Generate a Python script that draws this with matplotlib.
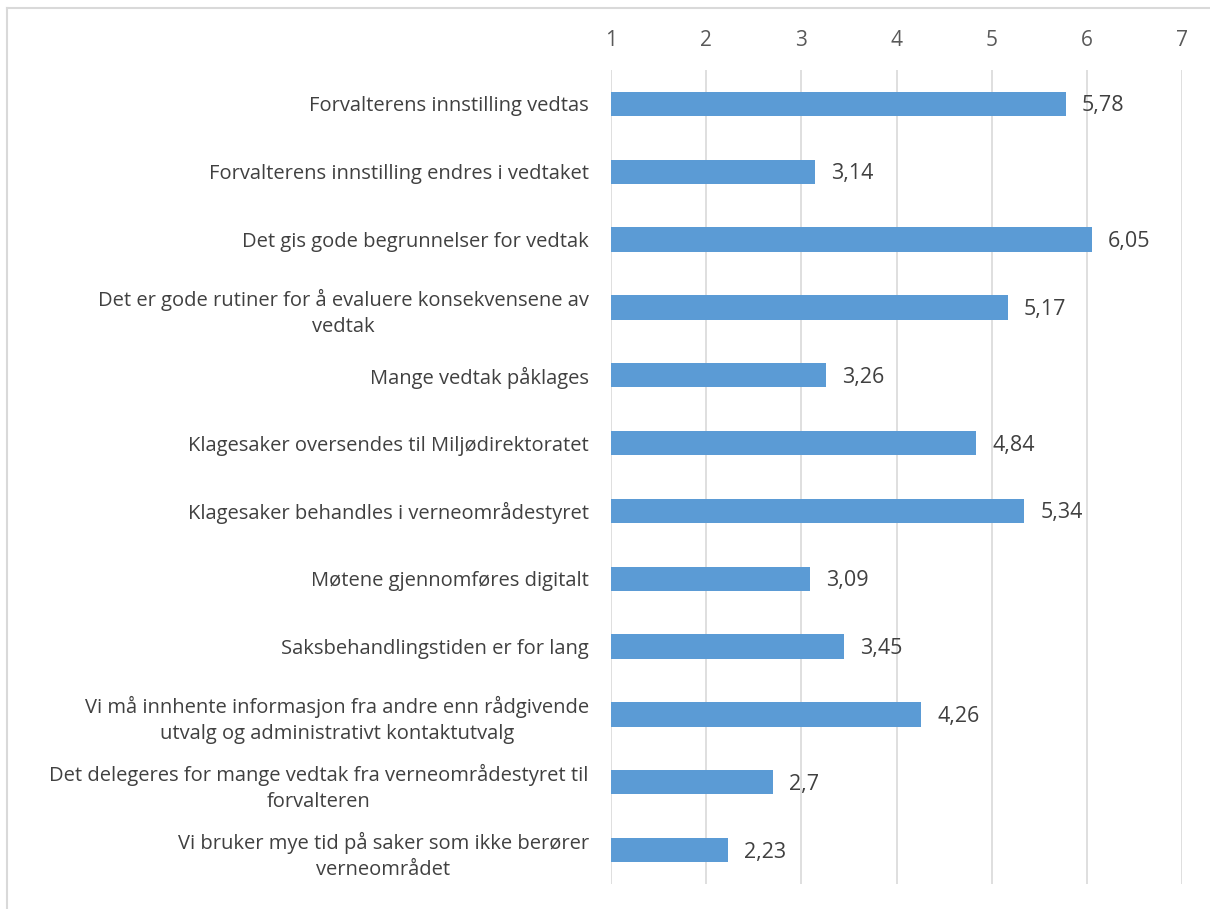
import matplotlib
matplotlib.use("Agg")
import matplotlib.pyplot as plt
from matplotlib.lines import Line2D

categories = [
    "Forvalterens innstilling vedtas",
    "Forvalterens innstilling endres i vedtaket",
    "Det gis gode begrunnelser for vedtak",
    "Det er gode rutiner for å evaluere konsekvensene av\nvedtak",
    "Mange vedtak påklages",
    "Klagesaker oversendes til Miljødirektoratet",
    "Klagesaker behandles i verneområdestyret",
    "Møtene gjennomføres digitalt",
    "Saksbehandlingstiden er for lang",
    "Vi må innhente informasjon fra andre enn rådgivende\nutvalg og administrativt kontaktutvalg",
    "Det delegeres for mange vedtak fra verneområdestyret til\nforvalteren",
    "Vi bruker mye tid på saker som ikke berører\nverneområdet",
]
values = [5.78, 3.14, 6.05, 5.17, 3.26, 4.84, 5.34, 3.09, 3.45, 4.26, 2.7, 2.23]
ticks = [1, 2, 3, 4, 5, 6, 7]

plt.rcParams['font.family'] = ['Open Sans', 'DejaVu Sans']
W, H = 1210, 909
fig = plt.figure(figsize=(W/100, H/100), dpi=100)
ax = fig.add_axes([611/W, 1-884/H, (1182-611)/W, (884-70)/H])

y = list(range(len(categories)))
ax.barh(y, [v - 1 for v in values], left=1, height=0.36, color="#5B9BD5", zorder=3)
ax.set_xlim(1, 7)
ax.set_ylim(len(categories) - 0.5, -0.5)
ax.set_xticks(ticks)
ax.xaxis.tick_top()
ax.tick_params(axis='x', length=0, pad=14, labelsize=15, labelcolor="#595959")
ax.tick_params(axis='y', length=0, pad=16, labelsize=14.5, labelcolor="#404040")
ax.set_yticks(y)
ax.set_yticklabels(categories, ha='right', multialignment='center', linespacing=1.4)
ax.grid(axis='x', color="#D9D9D9", linewidth=1.2, zorder=0)
for s in ax.spines.values():
    s.set_visible(False)

for yi, v in zip(y, values):
    ax.text(v + 0.17, yi + 0.03, f"{v:g}".replace(".", ","), va='center', ha='left',
            fontsize=15.5, color="#404040")

# figure border (left & top)
fig.add_artist(Line2D([7/W, 7/W], [0, 1-8/H], color="#D9D9D9", lw=1.5))
fig.add_artist(Line2D([7/W, 1], [1-8/H, 1-8/H], color="#D9D9D9", lw=1.5))

fig.savefig("out.png", dpi=100)
